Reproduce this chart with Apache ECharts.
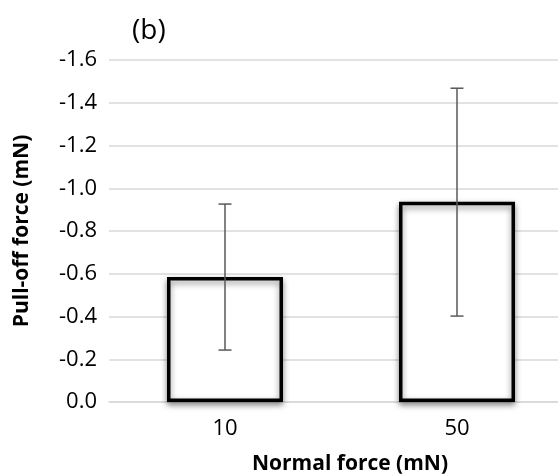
<!DOCTYPE html>
<html><head><meta charset="utf-8">
<script src="https://cdn.jsdelivr.net/npm/echarts@6/dist/echarts.min.js"></script>
<style>html,body{margin:0;padding:0;background:#fff}#c{width:558px;height:475px}</style>
</head><body><div id="c"></div>
<script>
const categories = ['10', '50'];
const pullOff = [-0.585, -0.937];
const errLow = [-0.243, -0.402];
const errHigh = [-0.926, -1.468];
const yTicks = [0, -0.2, -0.4, -0.6, -0.8, -1.0, -1.2, -1.4, -1.6];

const F = '"Open Sans", sans-serif';
const chart = echarts.init(document.getElementById('c'));
chart.setOption({
  animation: false,
  title: { text: '(b)', left: 127, top: 12, textStyle: { fontFamily: F, fontSize: 28, fontWeight: 'normal', color: '#000' } },
  grid: { left: 109, width: 464, top: 60, height: 342, outerBoundsMode: 'none', containLabel: false },
  xAxis: {
    type: 'category', data: categories,
    name: 'Normal force (mN)', nameLocation: 'middle', nameGap: 52,
    nameTextStyle: { fontFamily: F, fontSize: 21, fontWeight: 'bold', color: '#000', padding: [0, 0, 0, 18] },
    axisLine: { show: true, lineStyle: { color: '#d9d9d9', width: 1.5 } },
    axisTick: { show: false },
    axisLabel: { fontFamily: F, fontSize: 22, color: '#000', margin: 16 }
  },
  yAxis: {
    type: 'value', inverse: true, min: -1.6, max: 0, interval: 0.2,
    name: 'Pull-off force (mN)', nameLocation: 'middle', nameGap: 76, nameRotate: 90,
    nameTextStyle: { fontFamily: F, fontSize: 21, fontWeight: 'bold', color: '#000' },
    axisLine: { show: false }, axisTick: { show: false },
    axisLabel: { fontFamily: F, fontSize: 22, color: '#000', margin: 12, formatter: v => v.toFixed(1) },
    splitLine: { lineStyle: { color: '#d9d9d9', width: 1.5 } }
  },
  series: [
    {
      type: 'bar', data: pullOff, barWidth: 116,
      itemStyle: { color: '#fff', borderColor: '#000', borderWidth: 3.5,
        shadowColor: 'rgba(0,0,0,0.45)', shadowBlur: 6, shadowOffsetX: 0, shadowOffsetY: 3 }
    },
    {
      type: 'custom', z: 5,
      data: categories.map((c, i) => [i, errLow[i], errHigh[i]]),
      renderItem: (params, api) => {
        const lo = api.coord([api.value(0), api.value(1)]);
        const hi = api.coord([api.value(0), api.value(2)]);
        const w = 6.5;
        const st = { stroke: '#595959', lineWidth: 1.5 };
        return { type: 'group', children: [
          { type: 'line', shape: { x1: lo[0], y1: lo[1], x2: hi[0], y2: hi[1] }, style: st },
          { type: 'line', shape: { x1: lo[0] - w, y1: lo[1], x2: lo[0] + w, y2: lo[1] }, style: st },
          { type: 'line', shape: { x1: hi[0] - w, y1: hi[1], x2: hi[0] + w, y2: hi[1] }, style: st }
        ]};
      }
    }
  ]
});
</script></body></html>
